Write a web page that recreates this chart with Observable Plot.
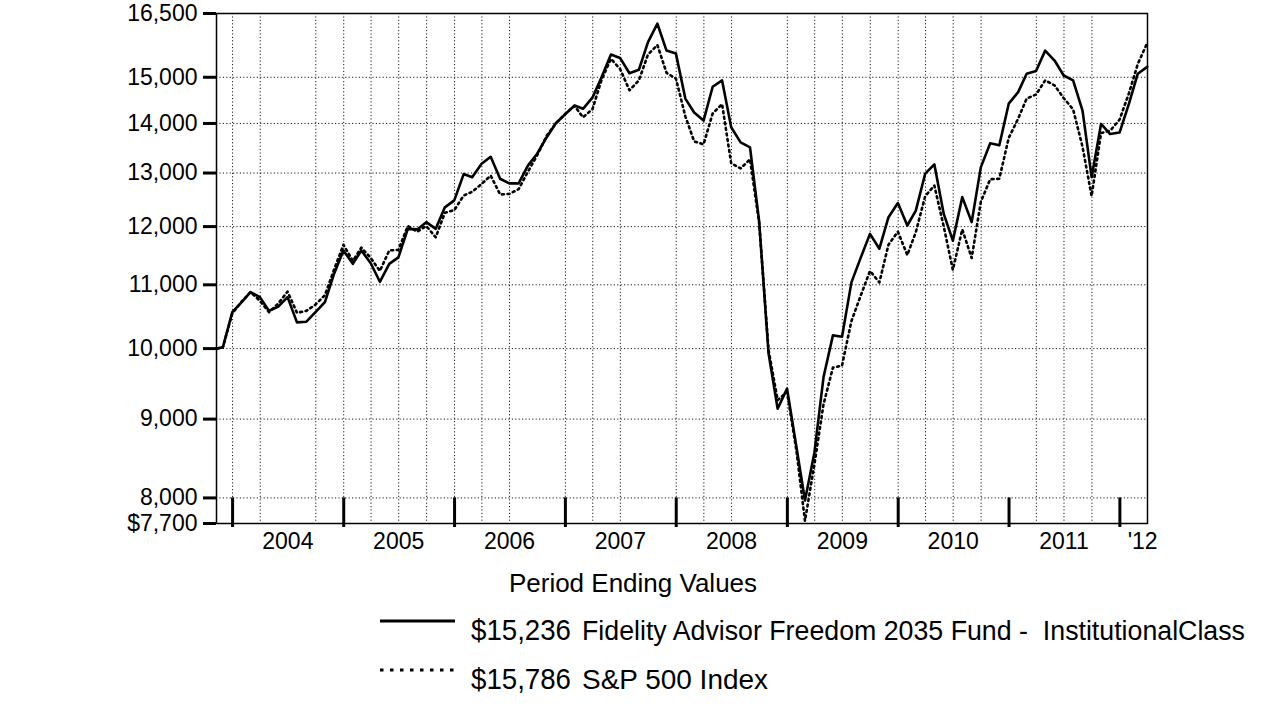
<!DOCTYPE html>
<html><head><meta charset="utf-8">
<script src="https://cdn.jsdelivr.net/npm/d3@7"></script>
<script src="https://cdn.jsdelivr.net/npm/@observablehq/plot@0.6"></script>
<style>
body{margin:0;background:#fff;font-family:"Liberation Sans",Arial,sans-serif;}
#wrap{width:1276px;height:717px;overflow:hidden;background:#fff;}
#wrap svg{display:block;}
</style></head><body><div id="wrap"></div>
<script>
// ---- data ----
const startDate = "2003-11-09";          // initial $10,000 investment
const firstMonth = "2003-11-01";          // first month-end value: Nov 2003
const monthCount = 101;                   // Nov 2003 .. Mar 2012
const fundName = "Fidelity Advisor Freedom 2035 Fund -  InstitutionalClass";
const indexName = "S&P 500 Index";
const fundValues = [10000,
  10020, 10560,
  10720, 10880, 10800, 10580, 10650, 10800, 10400, 10410, 10560, 10720, 11180, 11580,
  11350, 11580, 11360, 11050, 11350, 11460, 11960, 11950, 12080, 11960, 12350, 12480,
  12980, 12920, 13180, 13320, 12890, 12800, 12800, 13150, 13380, 13710, 14000, 14190,
  14380, 14310, 14550, 15000, 15520, 15440, 15090, 15170, 15810, 16250, 15610, 15540,
  14530, 14230, 14060, 14790, 14930, 13920, 13610, 13510, 12100, 9930, 9140, 9420,
  8630, 7970, 8560, 9580, 10200, 10180, 11040, 11460, 11870, 11610, 12170, 12430,
  12020, 12290, 12990, 13170, 12230, 11750, 12540, 12080, 13110, 13590, 13550, 14420,
  14670, 15080, 15140, 15610, 15380, 15040, 14930, 14270, 12920, 13990, 13780, 13810,
  14420, 15080, 15236];
const spValues = [10000,
  10020, 10540,
  10730, 10880, 10740, 10560, 10700, 10890, 10550, 10580, 10680, 10830, 11250, 11680,
  11400, 11630, 11450, 11230, 11580, 11590, 12010, 11910, 12010, 11810, 12250, 12300,
  12570, 12640, 12790, 12950, 12590, 12600, 12690, 13030, 13350, 13740, 14000, 14200,
  14370, 14130, 14300, 14940, 15420, 15190, 14710, 14930, 15520, 15740, 15100, 14970,
  14150, 13630, 13570, 14210, 14410, 13190, 13090, 13270, 12070, 9980, 9260, 9370,
  8580, 7730, 8410, 9200, 9720, 9750, 10420, 10830, 11230, 11040, 11680, 11910,
  11500, 11900, 12560, 12760, 12000, 11250, 11950, 11450, 12450, 12880, 12890, 13700,
  14100, 14530, 14620, 14930, 14820, 14540, 14300, 13520, 12560, 13800, 13850, 14080,
  14650, 15300, 15786];
const endValues = ["$15,236", "$15,786"];
const yTicks = [7700, 8000, 9000, 10000, 11000, 12000, 13000, 14000, 15000, 16500];
const yGrid = [8000, 9000, 10000, 11000, 12000, 13000, 14000, 15000];
const yearStarts = ["2004-01-01","2005-01-01","2006-01-01","2007-01-01","2008-01-01",
  "2009-01-01","2010-01-01","2011-01-01","2012-01-01"];
const yearLabels = ["2004","2005","2006","2007","2008","2009","2010","2011","'12"];
const yearLabelDates = ["2004-07-01","2005-07-01","2006-07-01","2007-07-01","2008-07-01",
  "2009-07-01","2010-07-01","2011-07-01","2012-03-16"];
const gridDates = ["2004-01-01","2004-04-01","2004-10-01",
  "2005-01-01","2005-04-01","2005-07-01","2005-10-01",
  "2006-01-01","2006-04-01","2006-07-01",
  "2007-01-01","2007-04-01","2007-07-01",
  "2008-01-01","2008-04-01","2008-07-01",
  "2009-01-01","2009-04-01","2009-07-01","2009-10-01",
  "2010-01-01","2010-04-01","2010-07-01","2010-10-01",
  "2011-04-01","2011-07-01","2011-10-01"];
const domainX = ["2003-11-09", "2012-04-01"];
const domainY = [7700, 16500];

// ---- build tables ----
const P = d3.utcParse("%Y-%m-%d");
const months = d3.range(monthCount).map(i => d3.utcDay.offset(d3.utcMonth.offset(P(firstMonth), i + 1), -1));
const dates = [P(startDate), ...months];
const fund = dates.map((d, i) => ({date: d, value: fundValues[i]}));
const sp = dates.map((d, i) => ({date: d, value: spValues[i]}));
const labelMap = new Map(yearLabelDates.map((d, i) => [+P(d), yearLabels[i]]));
const fmt = d => d === 7700 ? "$7,700" : d3.format(",")(d);
const font = "'Liberation Sans', Arial, Helvetica, sans-serif";

const chart = Plot.plot({
  width: 1276, height: 560,
  marginLeft: 216, marginRight: 129, marginTop: 13, marginBottom: 37,
  style: {fontFamily: font, color: "#000", background: "#fff"},
  x: {type: "utc", domain: domainX.map(P)},
  y: {type: "log", domain: domainY},
  marks: [
    Plot.ruleY(yGrid, {stroke: "#000", strokeWidth: 1, strokeDasharray: "1.2,2.2", strokeOpacity: 0.9}),
    Plot.ruleX(gridDates.map(P), {stroke: "#000", strokeWidth: 1, strokeDasharray: "1.2,2.2", strokeOpacity: 0.9}),
    Plot.ruleX(yearStarts.map(P), {y1: 8000, y2: 7700, stroke: "#000", strokeWidth: 3}),
    Plot.line(sp, {x: "date", y: "value", stroke: "#000", strokeWidth: 2.6, strokeDasharray: "2,3.6", curve: "linear"}),
    Plot.line(fund, {x: "date", y: "value", stroke: "#000", strokeWidth: 2.6, curve: "linear"}),
    Plot.frame({stroke: "#000", strokeWidth: 1.5}),
    Plot.axisY({ticks: yTicks, tickFormat: fmt, tickSize: 13, tickPadding: 6, fontSize: 23, strokeWidth: 3, label: null}),
    Plot.axisX({ticks: yearStarts.map(P), tickSize: 4, strokeWidth: 3, tickFormat: () => "", label: null}),
    Plot.axisX({ticks: yearLabelDates.map(P), tickSize: 0, tickPadding: 9, fontSize: 23, tickFormat: d => labelMap.get(+d), label: null})
  ]
});
const wrap = document.getElementById("wrap");
wrap.appendChild(chart);

// ---- caption and legend below the chart ----
const leg = d3.select(wrap).append("svg")
  .attr("width", 1276).attr("height", 157)
  .style("font-family", font);
leg.append("text").attr("x", 633).attr("y", 32).attr("text-anchor", "middle")
  .attr("font-size", 26).text("Period Ending Values");
const rows = [
  {dash: null, value: endValues[0], name: fundName, nameLen: 663, y: 61},
  {dash: "3.5,6.5", value: endValues[1], name: indexName, nameLen: 186, y: 110}
];
rows.forEach(r => {
  leg.append("line").attr("x1", 380).attr("x2", 455).attr("y1", r.y).attr("y2", r.y)
    .attr("stroke", "#000").attr("stroke-width", 3).attr("stroke-dasharray", r.dash);
  leg.append("text").attr("x", 471).attr("y", r.y + 19).attr("font-size", 30)
    .attr("textLength", 100).attr("lengthAdjust", "spacingAndGlyphs").text(r.value);
  leg.append("text").attr("x", 582).attr("y", r.y + 19).attr("font-size", 27)
    .style("white-space", "pre")
    .attr("textLength", r.nameLen).attr("lengthAdjust", "spacingAndGlyphs").text(r.name);
});
</script></body></html>
